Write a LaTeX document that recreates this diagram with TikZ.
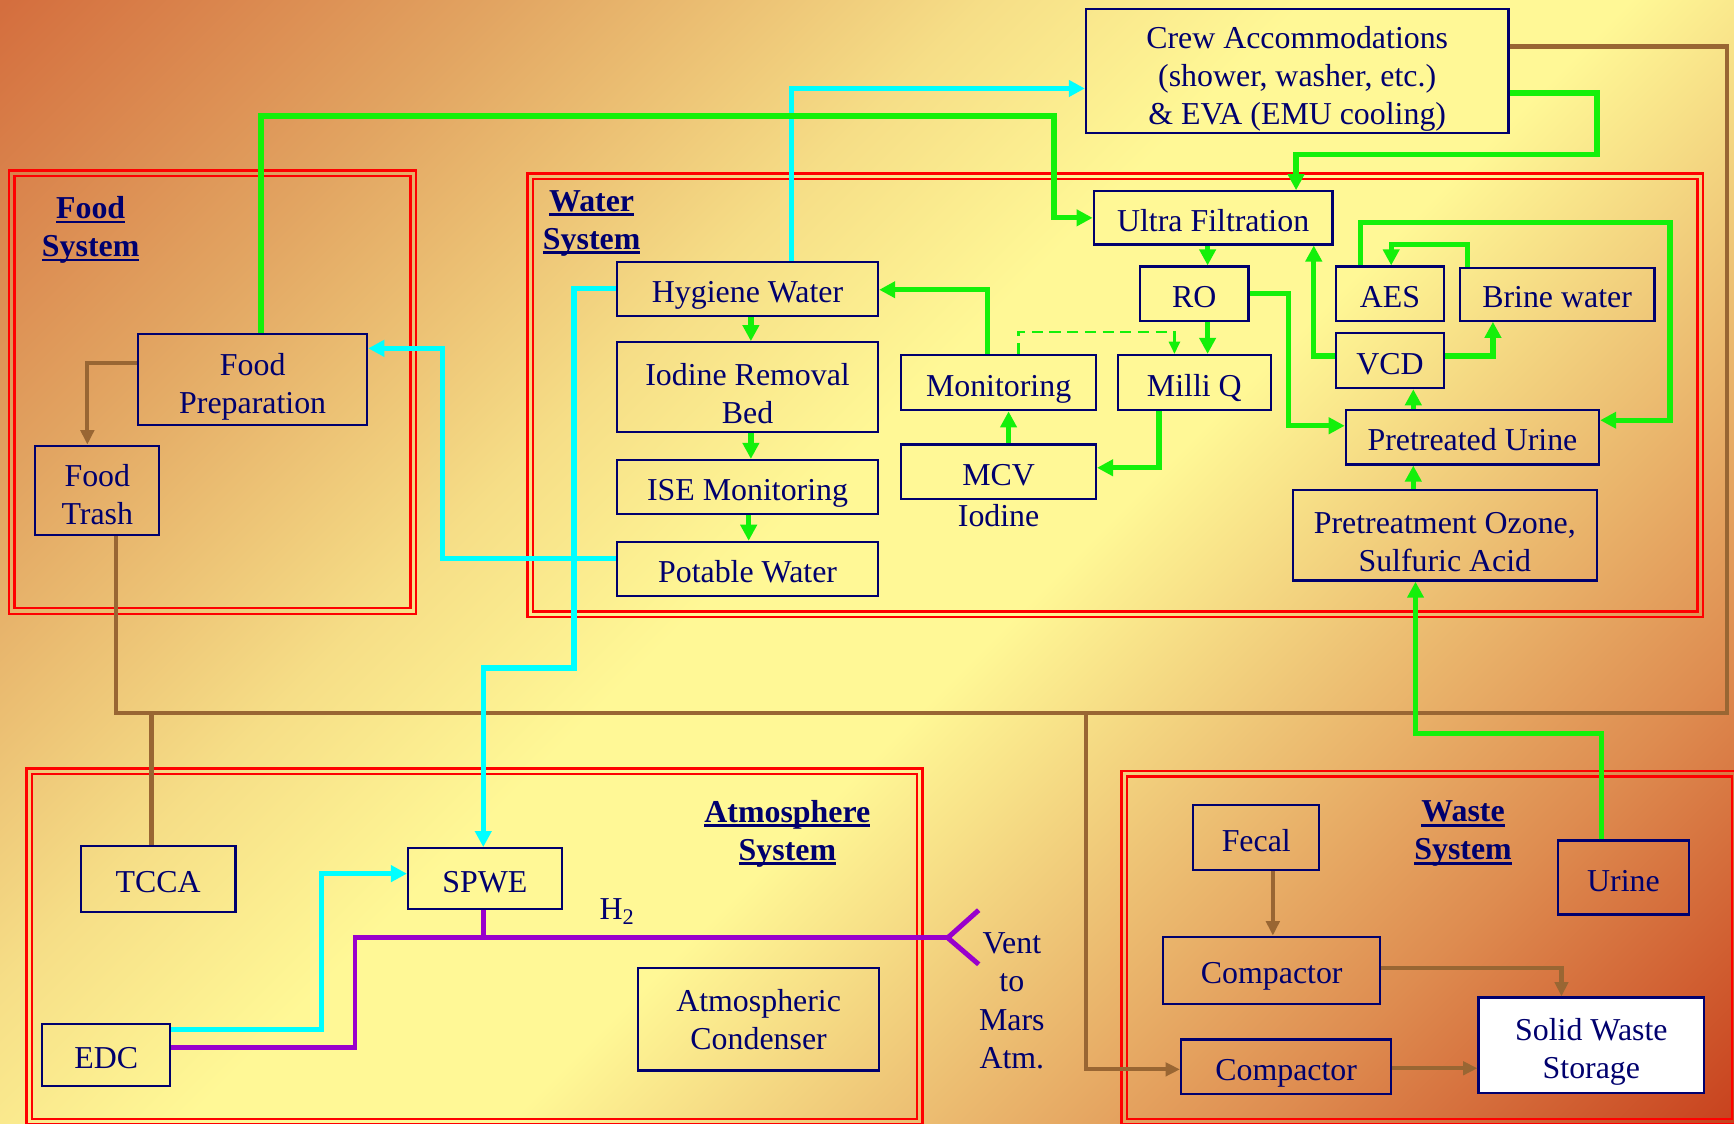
\documentclass[tikz,border=0pt]{standalone}
\usepackage{fontspec}
\setmainfont{Liberation Serif}
\usetikzlibrary{arrows.meta}
\definecolor{sysblue}{RGB}{0,0,110}
\definecolor{framered}{RGB}{255,0,0}
\definecolor{pipegreen}{RGB}{20,240,10}
\definecolor{pipecyan}{RGB}{0,255,255}
\definecolor{pipepurple}{RGB}{153,0,204}
\definecolor{pipebrown}{RGB}{153,102,51}
\definecolor{bgA}{RGB}{212,110,62}
\definecolor{bgB}{RGB}{226,165,98}
\definecolor{bgC}{RGB}{246,222,135}
\definecolor{bgD}{RGB}{255,248,150}
\definecolor{bgE}{RGB}{238,196,118}
\definecolor{bgF}{RGB}{222,140,80}
\definecolor{bgG}{RGB}{200,66,30}
\pgfdeclarehorizontalshading{marsbg}{100bp}{color(0bp)=(bgA); color(14.6bp)=(bgA); color(27bp)=(bgB); color(39bp)=(bgC); color(47bp)=(bgD); color(55bp)=(bgD); color(64bp)=(bgE); color(74bp)=(bgF); color(85.4bp)=(bgG); color(100bp)=(bgG)}
\newsavebox\syslbox
\newcommand{\sysul}[1]{\sbox\syslbox{#1}\rlap{\rule[-0.15em]{\wd\syslbox}{0.09em}}\usebox\syslbox}

\begin{document}
\begin{tikzpicture}[x=0.2mm,y=-0.2mm]
\tikzstyle{every node}+=[inner sep=0pt, text=sysblue, align=center, font=\fontsize{16.4}{19.6}\selectfont]
\tikzstyle{box}=[draw=sysblue, line width=0.4mm, text height=18pt, text depth=4.1pt]
\tikzstyle{syslabel}=[font=\fontsize{16.4}{19.6}\selectfont\bfseries]
\tikzstyle{frame}=[draw=framered, line width=0.45mm]
\tikzstyle{waterpipe}=[draw=pipegreen, line width=0.95mm, -{Triangle[length=2.9mm,width=2.9mm]}]
\tikzstyle{cleanpipe}=[draw=pipecyan, line width=0.95mm, -{Triangle[length=2.9mm,width=2.9mm]}]
\tikzstyle{gaspipe}=[draw=pipepurple, line width=0.9mm]
\tikzstyle{solidpipe}=[draw=pipebrown, line width=0.75mm, -{Triangle[length=2.6mm,width=2.4mm]}]
\useasboundingbox (0,0) rectangle (1568,1016);
\shade [shading=marsbg, shading angle=-45] (0,0) rectangle (1568,1016);
\draw [frame] (8,154) rectangle (376,555);
\draw [frame] (13,159) rectangle (371,550);
\draw [frame] (477,157) rectangle (1540,558);
\draw [frame] (482,162) rectangle (1535,553);
\draw [frame] (24,695) rectangle (834,1017);
\draw [frame] (29,700) rectangle (829,1012);
\draw [frame] (1014,697) rectangle (1571,1017);
\draw [frame] (1019,702) rectangle (1566,1012);
\draw (82,208) node [syslabel] (foodlbl) {\sysul{Food}\\\sysul{System}};
\draw (535,202) node [syslabel] (waterlbl) {\sysul{Water}\\\sysul{System}};
\draw (712,754) node [syslabel] (airlbl) {\sysul{Atmosphere}\\\sysul{System}};
\draw (1323,754) node [syslabel] (wastelbl) {\sysul{Waste}\\\sysul{System}};
\draw (1173,64) node [box, text height=59.5pt, minimum width=76.4mm, minimum height=22.4mm] (crew) {Crew Accommodations\\(shower, washer, etc.)\\\& EVA (EMU cooling)};
\draw (1097,197) node [box, minimum width=43.2mm, minimum height=9.6mm] (uf) {Ultra Filtration};
\draw (1080,265.5) node [box, minimum width=19.6mm, minimum height=9.8mm] (ro) {RO};
\draw (1257,265.5) node [box, minimum width=19.6mm, minimum height=9.8mm] (aes) {AES};
\draw (1408,266) node [box, minimum width=35.2mm, minimum height=9.6mm] (brine) {Brine water};
\draw (1257,326) node [box, minimum width=19.6mm, minimum height=10mm] (vcd) {VCD};
\draw (1331.5,395.5) node [box, minimum width=45.8mm, minimum height=9.8mm] (purine) {Pretreated Urine};
\draw (1306.5,484) node [box, text height=41pt, minimum width=55mm, minimum height=16.4mm] (ozone) {Pretreatment Ozone,\\Sulfuric Acid};
\draw (676,261.5) node [box, minimum width=47.2mm, minimum height=9.8mm] (hyg) {Hygiene Water};
\draw (676,350) node [box, text height=42pt, minimum width=47.2mm, minimum height=16mm] (irb) {Iodine Removal\\Bed};
\draw (676,440.5) node [box, minimum width=47.2mm, minimum height=9.8mm] (ise) {ISE Monitoring};
\draw (676,514.5) node [box, minimum width=47.2mm, minimum height=9.8mm] (pot) {Potable Water};
\draw (903,346) node [box, minimum width=35.2mm, minimum height=10mm] (mon) {Monitoring};
\draw (1080,346) node [box, minimum width=27.6mm, minimum height=10mm] (milliq) {Milli Q};
\draw (903,426.5) node [box, minimum width=35.2mm, minimum height=9.8mm] (mcv) {MCV};
\draw (903,466) node (iodine) {Iodine};
\draw (228.5,343) node [box, text height=39.4pt, minimum width=41.4mm, minimum height=16.4mm] (fp) {Food\\Preparation};
\draw (88,443.5) node [box, text height=39.5pt, minimum width=22.4mm, minimum height=16.2mm] (trash) {Food\\Trash};
\draw (143,795) node [box, minimum width=28mm, minimum height=12mm] (tcca) {TCCA};
\draw (438.5,794.5) node [box, minimum width=27.8mm, minimum height=11mm] (spwe) {SPWE};
\draw (96,954) node [box, minimum width=23.2mm, minimum height=11.2mm] (edc) {EDC};
\draw (686,921.5) node [box, text height=35pt, minimum width=43.6mm, minimum height=18.6mm] (cond) {Atmospheric\\Condenser};
\draw (1136,757.5) node [box, minimum width=22.8mm, minimum height=11.8mm] (fecal) {Fecal};
\draw (1468,793.5) node [box, minimum width=23.6mm, minimum height=13.4mm] (urine) {Urine};
\draw (1150,877.5) node [box, minimum width=39.2mm, minimum height=12.2mm] (compa) {Compactor};
\draw (1163,964.5) node [box, minimum width=38mm, minimum height=9.8mm] (compb) {Compactor};
\draw (1439,945) node [box, text height=38.2pt, fill=white, minimum width=40.8mm, minimum height=17.2mm] (sws) {Solid Waste\\Storage};
\draw (558,824) node (htwo) {H\textsubscript{2}};
\draw (915,905) node (ventlbl) {Vent\\to\\Mars\\Atm.};
\coordinate (busl) at (137,645);
\coordinate (busr) at (982,645);
\coordinate (vent) at (857,848);
\draw [solidpipe] (fp.west |- 0,328) -- (79,328) -- (trash.north -| 79,0);
\draw [solidpipe, -] (trash.south -| 105,0) -- (105,645) -- (1562,645) -- (1562,42) -- (crew.east |- 0,42);
\draw [solidpipe, -] (busl) -- (tcca.north -| busl);
\draw [solidpipe] (busr) |- (compb.west |- 0,967);
\draw [solidpipe] (fecal.south -| 1151,0) -- (compa.north -| 1151,0);
\draw [solidpipe] (compa.east |- 0,875) -| (sws.north -| 1412,0);
\draw [solidpipe] (compb.east |- 0,966) -- (sws.west |- 0,966);
\draw [gaspipe] (edc.east |- 0,947) -- (321,947) |- (vent);
\draw [gaspipe] (spwe.south -| 437,0) -- (437,848);
\draw [gaspipe] (885,823) -- (vent) -- (885,872);
\draw [cleanpipe] (hyg.north -| 716,0) -- (716,80) -- (crew.west |- 0,80);
\draw [cleanpipe] (pot.west |- 0,505) -- (400,505) |- (fp.east |- 0,315);
\draw [cleanpipe] (hyg.west |- 0,261) -- (519,261) -- (519,604) -- (437,604) -- (spwe.north -| 437,0);
\draw [cleanpipe] (edc.east |- 0,931) -- (291,931) |- (spwe.west |- 0,790);
\draw [waterpipe] (fp.north -| 236,0) -- (236,105) -- (953,105) |- (uf.west);
\draw [waterpipe] (crew.east |- 0,84) -- (1444,84) -- (1444,140) -- (1172,140) -- (uf.north -| 1172,0);
\draw [waterpipe] (uf.south -| 1092,0) -- (ro.north -| 1092,0);
\draw [waterpipe] (ro.south -| 1092,0) -- (milliq.north -| 1092,0);
\draw [waterpipe, line width=0.4mm, dash pattern=on 2mm off 1.2mm, -{Triangle[length=2.2mm,width=2mm]}] (mon.north -| 921,0) -- (921,300) -- (1062,300) -- (milliq.north -| 1062,0);
\draw [waterpipe] (mon.north -| 893,0) |- (hyg.east |- 0,262);
\draw [waterpipe] (milliq.south -| 1048,0) |- (mcv.east |- 0,423);
\draw [waterpipe] (mcv.north -| 912,0) -- (mon.south -| 912,0);
\draw [waterpipe] (hyg.south -| 679,0) -- (irb.north -| 679,0);
\draw [waterpipe] (irb.south -| 679,0) -- (ise.north -| 679,0);
\draw [waterpipe] (ise.south -| 677,0) -- (pot.north -| 677,0);
\draw [waterpipe] (ro.east) -- (1165,265.5) |- (purine.west |- 0,385);
\draw [waterpipe] (vcd.west |- 0,322) -- (1188,322) -- (uf.south -| 1188,0);
\draw [waterpipe] (vcd.east |- 0,322) -| (brine.south -| 1350,0);
\draw [waterpipe] (brine.north -| 1327,0) -- (1327,221) -- (1258,221) -- (aes.north -| 1258,0);
\draw [waterpipe] (aes.north -| 1230,0) -- (1230,201) -- (1510,201) |- (purine.east |- 0,380);
\draw [waterpipe] (purine.north -| 1278,0) -- (vcd.south -| 1278,0);
\draw [waterpipe] (ozone.north -| 1278,0) -- (purine.south -| 1278,0);
\draw [waterpipe] (urine.north -| 1448,0) -- (1448,663) -- (1280,663) -- (ozone.south -| 1280,0);
\end{tikzpicture}
\end{document}
